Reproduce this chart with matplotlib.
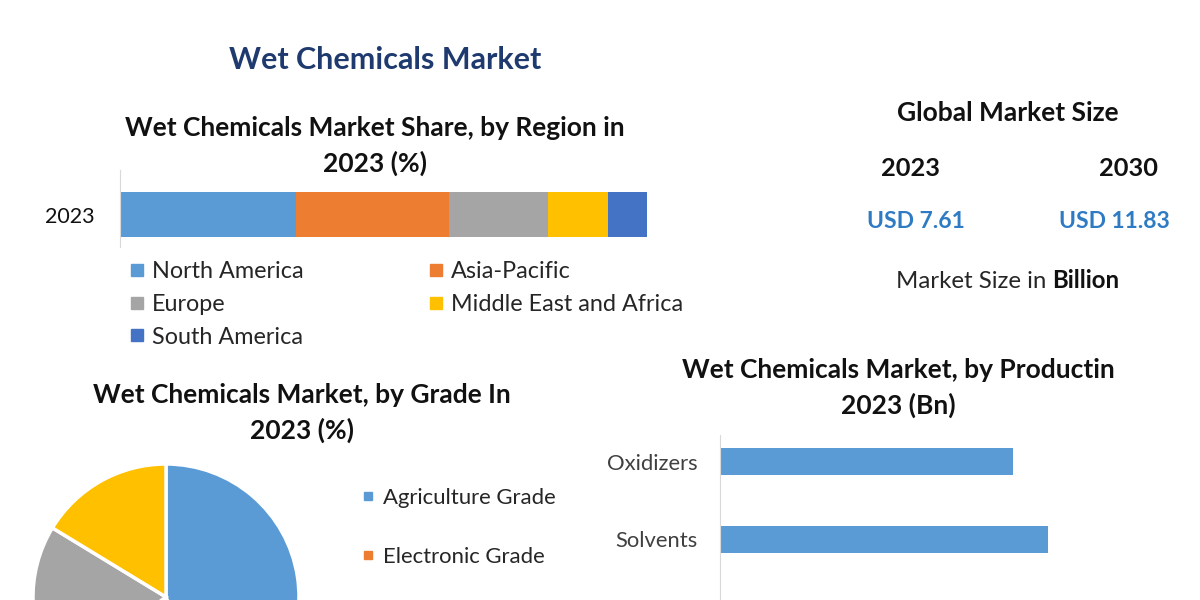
import matplotlib
matplotlib.use("Agg")
import matplotlib.pyplot as plt
from matplotlib.lines import Line2D

plt.rcParams['font.family'] = ['Lato', 'DejaVu Sans']

# region share 2023 (%)
regions = ['North America', 'Asia-Pacific', 'Europe', 'Middle East and Africa', 'South America']
region_share = [33.4, 29.0, 18.8, 11.4, 7.4]
region_colors = ['#5B9BD5', '#ED7D31', '#A5A5A5', '#FFC000', '#4472C4']

# grade split 2023 (%) - lower half of the pie is cut off in the source,
# only the first two legend entries are visible there
grades = ['Agriculture Grade', 'Electronic Grade']
grade_share = [45.0, 20.0, 18.7, 16.3]
grade_colors = ['#5B9BD5', '#ED7D31', '#A5A5A5', '#FFC000']

# production 2023 (Bn)
products = ['Oxidizers', 'Solvents']
product_value = [1.85, 2.07]

years = ['2023', '2030']
market_size = ['USD 7.61', 'USD 11.83']

W, H = 1200, 600


def px(x0, y0, x1, y1):
    # pixel box (top-left origin) -> figure rect
    return [x0 / W, 1 - y1 / H, (x1 - x0) / W, (y1 - y0) / H]


fig = plt.figure(figsize=(12, 6), dpi=100)
fig.patch.set_facecolor('white')

# overlay for free text, pixel coords (drawn on top of the chart axes)
bg = fig.add_axes([0, 0, 1, 1])
bg.set_xlim(0, W)
bg.set_ylim(H, 0)
bg.axis('off')
bg.set_zorder(10)

bg.text(385, 60, 'Wet Chemicals Market', ha='center', va='center',
        fontsize=22, fontweight='bold', color='#1F3A6E')

# ---- stacked region bar
bg.text(375, 146, 'Wet Chemicals Market Share, by Region in\n2023 (%)', ha='center', va='center',
        fontsize=19, fontweight='bold', color='#111111', linespacing=1.47)

ax1 = fig.add_axes(px(120, 170, 647, 247))
ax1.patch.set_alpha(0)
left = 0
for name, val, col in zip(regions, region_share, region_colors):
    ax1.barh([0], [val], left=left, height=1.0, color=col, label=name)
    left += val
ax1.set_xlim(0, 100)
ax1.set_ylim(-0.72, 0.99)
ax1.set_yticks([0])
ax1.set_yticklabels(['2023'], fontsize=15.5, color='#111111')
ax1.set_xticks([])
ax1.tick_params(axis='y', length=0, pad=18)
for s in ['top', 'right', 'bottom']:
    ax1.spines[s].set_visible(False)
ax1.spines['left'].set_color('#D9D9D9')

handles = [Line2D([], [], marker='s', linestyle='none', markersize=8, color=c) for c in region_colors]
order = [0, 2, 4, 1, 3]
fig.legend([handles[i] for i in order], [regions[i] for i in order],
           loc='upper left', bbox_to_anchor=(121 / W, 1 - 252 / H), borderaxespad=0,
           ncol=2, frameon=False, fontsize=16.8, handlelength=0.6, handletextpad=0.34,
           labelspacing=0.5, columnspacing=5.35, labelcolor='#262626')

# ---- global market size
bg.text(1008, 113, 'Global Market Size', ha='center', va='center', fontsize=19, fontweight='bold', color='#111111')
for xc, yr in zip([911, 1128], years):
    bg.text(xc, 168, yr, ha='center', va='center', fontsize=18.3, fontweight='bold', color='#111111')
for xc, txt in zip([916, 1114], market_size):
    bg.text(xc, 222, txt, ha='center', va='center', fontsize=16.5, fontweight='bold', color='#2E7BC4')
t1 = bg.text(896, 281, 'Market Size in', ha='left', va='center', fontsize=17.3, color='#262626')
bg.annotate('Billion', xy=(1, 0), xycoords=t1, xytext=(4, 0), textcoords='offset points',
            ha='left', va='bottom', fontsize=17.3, fontweight='bold', color='#111111')

# ---- pie by grade
bg.text(302, 413, 'Wet Chemicals Market, by Grade In\n2023 (%)', ha='center', va='center',
        fontsize=19, fontweight='bold', color='#111111', linespacing=1.47)
ax2 = fig.add_axes(px(33, 464, 299, 730))
ax2.pie(grade_share, colors=grade_colors, startangle=90, counterclock=False, radius=1,
        wedgeprops=dict(edgecolor='white', linewidth=2.5))
ax2.set_xlim(-1, 1)
ax2.set_ylim(-1, 1)
ax2.set_aspect('equal')

ghandles = [Line2D([], [], marker='s', linestyle='none', markersize=6, color=c) for c in grade_colors]
fig.legend(ghandles[:len(grades)], grades, loc='upper left', bbox_to_anchor=(353 / W, 1 - 479 / H),
           borderaxespad=0, frameon=False, fontsize=15.9, handlelength=0.6, handletextpad=0.34,
           labelspacing=1.78, labelcolor='#262626')

# ---- production bars
bg.text(898, 388, 'Wet Chemicals Market, by Productin\n2023 (Bn)', ha='center', va='center',
        fontsize=19, fontweight='bold', color='#111111', linespacing=1.47)
ax3 = fig.add_axes(px(720, 435, 1100, 700))
ax3.patch.set_alpha(0)
ax3.barh(range(len(products)), product_value, height=0.35, color='#5B9BD5')
ax3.set_xlim(0, 2.4)
ax3.set_ylim(3.06, -0.34)
ax3.set_yticks(range(len(products)))
ax3.set_yticklabels(products, fontsize=15.8, color='#404040')
ax3.set_xticks([])
ax3.tick_params(axis='y', length=0, pad=16)
for s in ['top', 'right', 'bottom']:
    ax3.spines[s].set_visible(False)
ax3.spines['left'].set_color('#D9D9D9')

fig.savefig('out.png', dpi=100, facecolor='white')
